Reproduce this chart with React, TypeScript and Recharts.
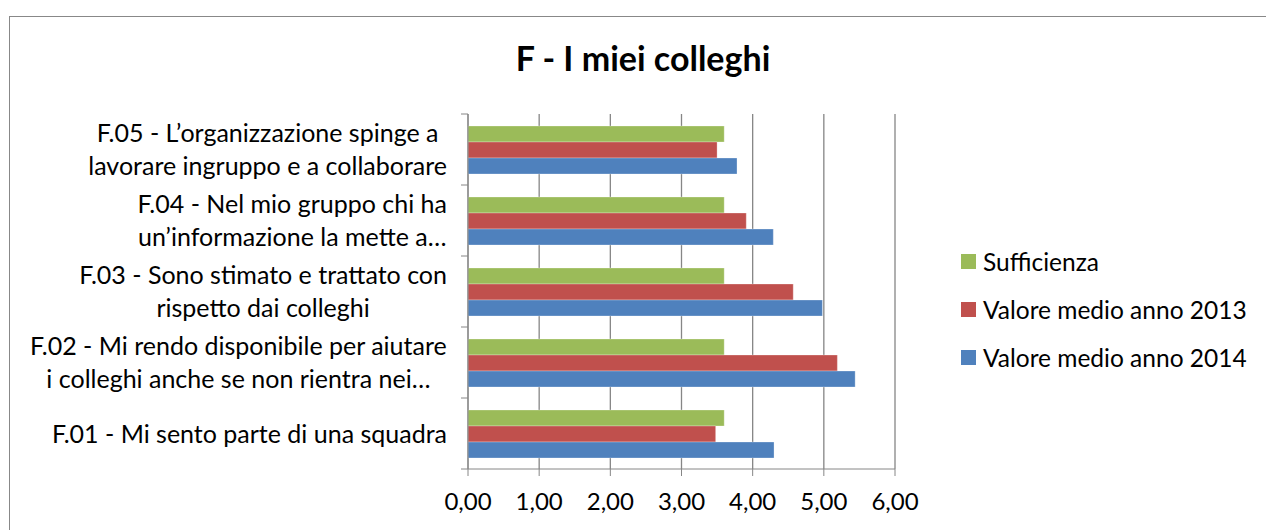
import React from 'react';
import { BarChart, Bar, XAxis, YAxis, CartesianGrid } from 'recharts';

// data
const categories = [
  'F.05 - L\u2019organizzazione spinge a\nlavorare ingruppo e a collaborare',
  'F.04 - Nel mio gruppo chi ha\nun\u2019informazione la mette a\u2026',
  'F.03 - Sono stimato e trattato con\nrispetto dai colleghi',
  'F.02 - Mi rendo disponibile per aiutare\ni colleghi anche se non rientra nei\u2026',
  'F.01 - Mi sento parte di una squadra',
];
const sufficienza = [3.6, 3.6, 3.6, 3.6, 3.6];
const media2013 = [3.5, 3.91, 4.57, 5.19, 3.48];
const media2014 = [3.78, 4.29, 4.98, 5.44, 4.3];
const xTicks = [0, 1, 2, 3, 4, 5, 6];

const series = [
  { key: 'sufficienza', name: 'Sufficienza', color: '#9BBB59' },
  { key: 'media2013', name: 'Valore medio anno 2013', color: '#C0504D' },
  { key: 'media2014', name: 'Valore medio anno 2014', color: '#4F81BD' },
];

const data = categories.map((name, i) => ({
  name,
  sufficienza: sufficienza[i],
  media2013: media2013[i],
  media2014: media2014[i],
}));

const FONT = 'Lato, "Noto Sans", sans-serif';
const LABEL_SIZE = 25;
const AXIS_GRAY = '#868686';

const W = 1266;
const H = 530;
const margin = { top: 114, right: 371, bottom: 21, left: 0 };
const X_AXIS_H = 40;
const Y_AXIS_W = 468;
const PLOT_H = H - margin.top - margin.bottom - X_AXIS_H;

let ctx: CanvasRenderingContext2D | null = null;
function textWidth(s: string) {
  if (!ctx) ctx = document.createElement('canvas').getContext('2d');
  if (!ctx) return s.length * LABEL_SIZE * 0.5;
  ctx.font = `${LABEL_SIZE}px ${FONT}`;
  return ctx.measureText(s).width;
}

function CategoryTick(props: any) {
  const { x, y, payload, index } = props;
  const lines = String(payload.value).split('\n');
  const band = PLOT_H / categories.length;
  const right = x - 21;
  const blockW = Math.max(...lines.map(textWidth));
  const cx = right - blockW / 2;
  const lineH = 32.5;
  return (
    <g>
      <line x1={x - 7} x2={x} y1={y - band / 2} y2={y - band / 2} stroke={AXIS_GRAY} />
      {index === categories.length - 1 && (
        <line x1={x - 7} x2={x} y1={y + band / 2} y2={y + band / 2} stroke={AXIS_GRAY} />
      )}
      <text textAnchor="middle" fontFamily={FONT} fontSize={LABEL_SIZE} fill="#000">
        {lines.map((l, i) => (
          <tspan key={i} x={cx} y={y + (i - (lines.length - 1) / 2) * lineH} dy="0.36em">
            {l}
          </tspan>
        ))}
      </text>
    </g>
  );
}

export default function App() {
  return (
    <div
      style={{
        position: 'absolute',
        left: 0,
        top: 0,
        width: W,
        height: H,
        overflow: 'hidden',
        background: '#fff',
      }}
    >
      <div
        style={{
          position: 'absolute',
          left: 9,
          top: 16,
          width: 1300,
          height: 600,
          border: '1px solid #888',
        }}
      />
      <div style={{ position: 'absolute', left: 0, top: 0 }}>
        <BarChart
          width={W}
          height={H}
          data={data}
          layout="vertical"
          margin={margin}
          barCategoryGap={12}
          barGap={0}
        >
          <CartesianGrid horizontal={false} stroke={AXIS_GRAY} strokeWidth={1.3} />
          <XAxis
            type="number"
            domain={[0, 6]}
            ticks={xTicks}
            height={X_AXIS_H}
            stroke={AXIS_GRAY}
            tickSize={7}
            tickMargin={17}
            tick={{ fill: '#000', fontSize: 24, fontFamily: FONT }}
            tickFormatter={(v: number) => v.toFixed(2).replace('.', ',')}
          />
          <YAxis
            type="category"
            dataKey="name"
            width={Y_AXIS_W}
            stroke={AXIS_GRAY}
            tickLine={false}
            tickSize={0}
            tickMargin={0}
            interval={0}
            tick={<CategoryTick />}
          />
          {series.map((s) => (
            <Bar
              key={s.key}
              dataKey={s.key}
              name={s.name}
              fill={s.color}
              stroke="#ffffff"
              strokeOpacity={0.35}
              strokeWidth={0.8}
              isAnimationActive={false}
            />
          ))}
        </BarChart>
      </div>
      <svg
        width={W}
        height={H}
        style={{ position: 'absolute', left: 0, top: 0, pointerEvents: 'none' }}
      >
        <text
          x={643}
          y={71}
          textAnchor="middle"
          fontFamily={FONT}
          fontWeight="bold"
          fontSize={34}
          fill="#000"
        >
          F - I miei colleghi
        </text>
        {series.map((s, i) => (
          <g key={s.key}>
            <rect x={961} y={254 + i * 48} width={15} height={15} fill={s.color} />
            <text
              x={983}
              y={262 + i * 48}
              dy="0.36em"
              fontFamily={FONT}
              fontSize={24.5}
              fill="#000"
            >
              {s.name}
            </text>
          </g>
        ))}
      </svg>
    </div>
  );
}
